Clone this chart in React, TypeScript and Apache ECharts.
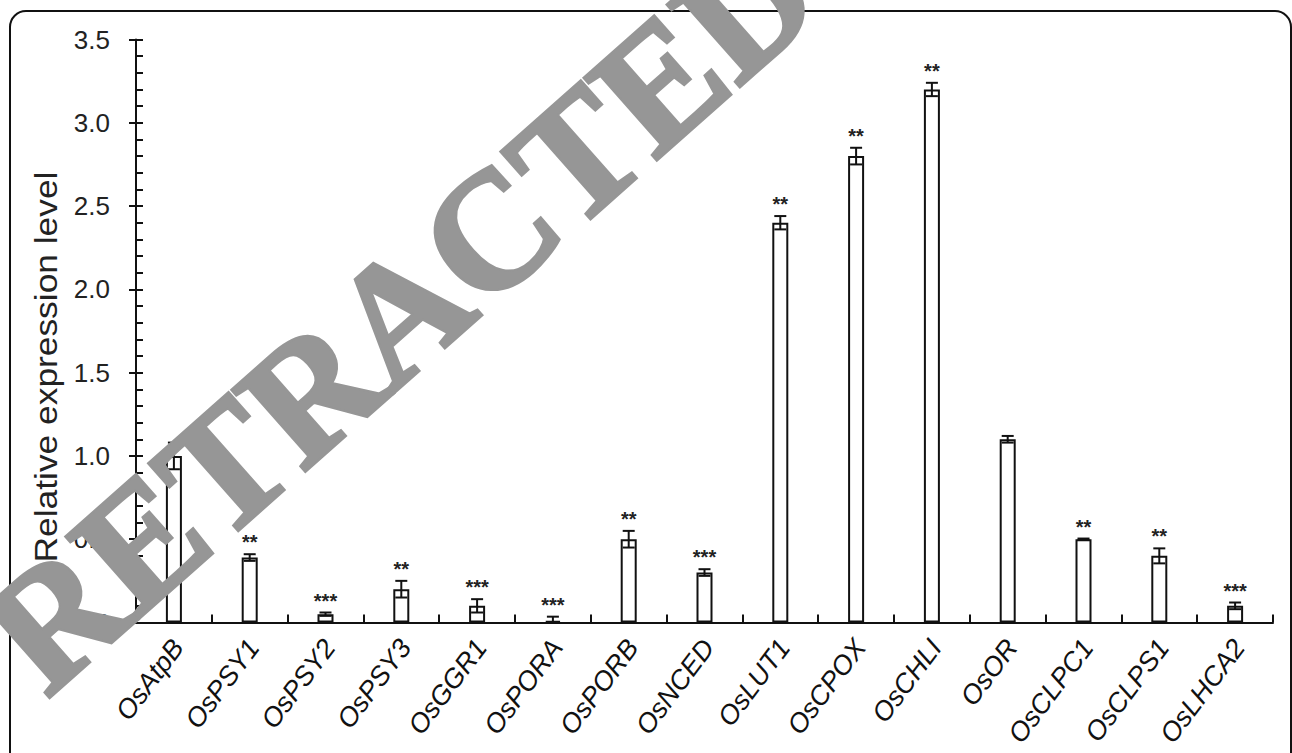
import React, { useEffect, useRef } from 'react';
import * as echarts from 'echarts';

const categories = ['OsAtpB', 'OsPSY1', 'OsPSY2', 'OsPSY3', 'OsGGR1', 'OsPORA', 'OsPORB', 'OsNCED', 'OsLUT1', 'OsCPOX', 'OsCHLI', 'OsOR', 'OsCLPC1', 'OsCLPS1', 'OsLHCA2'];
const values = [1.0, 0.39, 0.05, 0.2, 0.1, 0.01, 0.5, 0.3, 2.4, 2.8, 3.2, 1.1, 0.5, 0.4, 0.1];
const errors = [0.08, 0.02, 0.01, 0.05, 0.04, 0.025, 0.05, 0.02, 0.04, 0.05, 0.04, 0.02, 0.004, 0.045, 0.02];
const significance = ['', '**', '***', '**', '***', '***', '**', '***', '**', '**', '**', '', '**', '**', '***'];
const yMin = 0;
const yMax = 3.5;
const yInterval = 0.5;
const yAxisName = 'Relative expression level';
const watermark = 'RETRACTED';

const INK = '#111';
const SANS = '"Liberation Sans", Arial, sans-serif';

export default function App() {
  const ref = useRef<HTMLDivElement>(null);

  useEffect(() => {
    if (!ref.current) return;
    const chart = echarts.init(ref.current, null, { renderer: 'svg' });
    const errData = categories.map((_, i) => [i, values[i], errors[i]]);

    const staticGraphics: any[] = [
      {
        type: 'rect',
        shape: { x: 10, y: 11, width: 1281, height: 790, r: 16 },
        style: { fill: 'none', stroke: INK, lineWidth: 2 },
        z: 1,
      },
      {
        type: 'text',
        x: 46,
        y: 367,
        rotation: Math.PI / 2,
        scaleX: 1.14,
        style: {
          text: yAxisName,
          fontSize: 31,
          fontFamily: SANS,
          fill: '#222',
          align: 'center',
          verticalAlign: 'middle',
        },
        z: 5,
      },
      {
        type: 'text',
        x: 400,
        y: 312,
        rotation: (41.5 * Math.PI) / 180,
        style: {
          text: watermark,
          fontSize: 166,
          fontFamily: '"Liberation Serif", "Times New Roman", serif',
          fontWeight: 'bold',
          fill: '#969696',
          stroke: '#969696',
          lineWidth: 4,
          align: 'center',
          verticalAlign: 'middle',
        },
        z: 100,
      },
    ];

    chart.setOption({
      animation: false,
      backgroundColor: '#ffffff',
      grid: { left: 136, right: 19, top: 39.5, bottom: 130.5, containLabel: false },
      xAxis: {
        type: 'category',
        data: categories,
        boundaryGap: true,
        axisLine: { lineStyle: { color: INK, width: 2 } },
        axisTick: { show: true, inside: true, length: 8, alignWithLabel: false, lineStyle: { color: INK, width: 2 } },
        axisLabel: { show: false },
        splitLine: { show: false },
      },
      yAxis: [
        {
          type: 'value',
          min: yMin,
          max: yMax,
          interval: yInterval,
          position: 'left',
          axisLine: { show: true, lineStyle: { color: INK, width: 2 } },
          axisTick: { show: true, inside: false, length: 7, lineStyle: { color: INK, width: 2 } },
          axisLabel: {
            margin: 26,
            fontSize: 26,
            fontFamily: SANS,
            color: '#222',
            formatter: (v: number) => v.toFixed(1),
          },
          splitLine: { show: false },
        },
        {
          type: 'value',
          min: yMin,
          max: yMax,
          interval: yInterval,
          position: 'left',
          axisLine: { show: false },
          axisTick: { show: true, inside: true, length: 7, lineStyle: { color: INK, width: 2 } },
          minorTick: { show: true, splitNumber: 5, length: 7, lineStyle: { color: INK, width: 2 } },
          axisLabel: { show: false },
          splitLine: { show: false },
        },
      ],
      series: [
        {
          type: 'bar',
          data: values,
          barWidth: 16,
          itemStyle: { color: '#ffffff', borderColor: INK, borderWidth: 2 },
          z: 2,
        },
        {
          type: 'custom',
          data: errData,
          z: 3,
          renderItem: (params: any, api: any) => {
            const x = api.value(0);
            const v = api.value(1);
            const e = api.value(2);
            const top = api.coord([x, v + e]);
            const bot = api.coord([x, Math.max(0, v - e)]);
            const half = 6;
            const st = { stroke: INK, lineWidth: 2 };
            const children: any[] = [
              { type: 'line', shape: { x1: top[0], y1: top[1], x2: bot[0], y2: bot[1] }, style: st },
              { type: 'line', shape: { x1: top[0] - half, y1: top[1], x2: top[0] + half, y2: top[1] }, style: st },
              { type: 'line', shape: { x1: bot[0] - half, y1: bot[1], x2: bot[0] + half, y2: bot[1] }, style: st },
            ];
            const s = significance[params.dataIndex];
            if (s) {
              children.push({
                type: 'text',
                x: top[0],
                y: top[1] - 2,
                style: {
                  text: s,
                  fill: '#222',
                  fontSize: 20,
                  fontWeight: 'bold',
                  fontFamily: SANS,
                  align: 'center',
                  verticalAlign: 'bottom',
                },
              });
            }
            return { type: 'group', children };
          },
        },
      ],
      graphic: staticGraphics,
    });

    // Category labels placed at the axis' own category positions
    const y0 = chart.convertToPixel({ yAxisIndex: 0 }, 0) as number;
    const labelGraphics = categories.map((c) => {
      const cx = chart.convertToPixel({ xAxisIndex: 0 }, c) as number;
      return {
        type: 'text',
        x: cx + 4,
        y: y0 + 20,
        rotation: (53 * Math.PI) / 180,
        style: {
          text: c,
          fontSize: 27,
          fontStyle: 'italic',
          fontFamily: SANS,
          fill: INK,
          align: 'right',
          verticalAlign: 'middle',
        },
        z: 5,
      };
    });
    chart.setOption({ graphic: [...staticGraphics, ...labelGraphics] });

    return () => chart.dispose();
  }, []);

  return (
    <div
      ref={ref}
      style={{ position: 'absolute', left: 0, top: 0, width: 1292, height: 753 }}
    />
  );
}
